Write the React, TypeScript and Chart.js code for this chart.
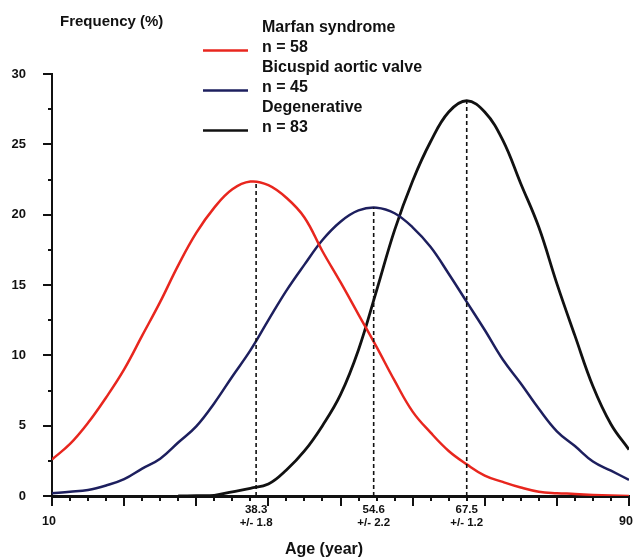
import { useEffect, useRef } from "react";
import { Chart, registerables } from "chart.js";

Chart.register(...registerables);

const ages = [10, 12.5, 15, 17.5, 20, 22.5, 25, 27.5, 30, 32.5, 35, 37.5, 40, 42.5, 45, 47.5, 50, 52.5, 55, 57.5, 60, 62.5, 65, 67.5, 70, 72.5, 75, 77.5, 80, 82.5, 85, 87.5, 90];
const marfan = [2.6, 3.7, 5.2, 7.0, 9.0, 11.4, 13.8, 16.4, 18.7, 20.5, 21.8, 22.35, 22.1, 21.2, 19.8, 17.4, 15.2, 12.9, 10.6, 8.2, 6.0, 4.5, 3.2, 2.25, 1.45, 1.0, 0.6, 0.3, 0.2, 0.15, 0.08, 0.03, 0.0];
const bicuspid = [0.2, 0.3, 0.43, 0.75, 1.2, 1.95, 2.65, 3.8, 4.95, 6.6, 8.5, 10.35, 12.5, 14.6, 16.45, 18.2, 19.5, 20.3, 20.5, 20.1, 19.1, 17.7, 15.8, 13.8, 11.8, 9.7, 8.0, 6.2, 4.6, 3.55, 2.45, 1.8, 1.15];
const degenerative = [null, null, null, null, null, null, null, 0, 0.02, 0.05, 0.3, 0.55, 0.85, 1.85, 3.2, 5.0, 7.2, 10.4, 14.6, 18.9, 22.4, 25.2, 27.3, 28.1, 27.3, 25.3, 22.2, 19.1, 15.1, 11.4, 7.8, 5.1, 3.3];

const seriesNames = ["Marfan syndrome", "Bicuspid aortic valve", "Degenerative"];
const seriesCounts = ["n = 58", "n = 45", "n = 83"];
const seriesColors = ["#e8261e", "#1d1f5e", "#111111"];

const peakAges = [38.3, 54.6, 67.5];
const peakValues = [22.4, 20.5, 28.1];
const peakSpread = ["+/- 1.8", "+/- 2.2", "+/- 1.2"];

const xEndLabels = [10, 90];
const yTitle = "Frequency (%)";
const xTitle = "Age (year)";

const FONT = "'Liberation Sans', Arial, Helvetica, sans-serif";

const decorPlugin = {
  id: "decor",
  afterDraw(chart: any) {
    const ctx = chart.ctx;
    const xs = chart.scales.x;
    const ys = chart.scales.y;
    const left = chart.chartArea.left;
    const bottom = chart.chartArea.bottom;
    ctx.save();
    ctx.strokeStyle = "#111";
    ctx.fillStyle = "#111";
    ctx.lineWidth = 2;
    // y ticks
    for (let v = ys.min; v <= ys.max + 0.001; v += 2.5) {
      const py = Math.round(ys.getPixelForValue(v));
      const major = Math.abs(v % 5) < 0.001;
      ctx.beginPath();
      ctx.moveTo(left - (major ? 9 : 4), py);
      ctx.lineTo(left, py);
      ctx.stroke();
    }
    // x ticks
    for (let a = xs.min; a <= xs.max + 0.001; a += 2.5) {
      const px = Math.round(xs.getPixelForValue(a));
      const major = Math.abs(a % 10) < 0.001;
      ctx.beginPath();
      ctx.moveTo(px, bottom);
      ctx.lineTo(px, bottom + (major ? 10 : 5));
      ctx.stroke();
    }
    ctx.textBaseline = "middle";
    ctx.textAlign = "center";
    // x end labels
    ctx.font = `bold 12.5px ${FONT}`;
    xEndLabels.forEach((a) => {
      ctx.fillText(String(a), xs.getPixelForValue(a) - 3, 522);
    });
    // peak labels
    ctx.font = `bold 11.5px ${FONT}`;
    peakAges.forEach((a, i) => {
      const px = xs.getPixelForValue(a);
      ctx.fillText(a.toFixed(1), px, 510);
      ctx.fillText(peakSpread[i], px, 523);
    });
    // axis titles
    ctx.font = `bold 16px ${FONT}`;
    ctx.fillText(xTitle, 324, 550);
    ctx.textAlign = "left";
    ctx.font = `bold 15px ${FONT}`;
    ctx.fillText(yTitle, 60, 22);
    // legend
    seriesNames.forEach((name, i) => {
      const yTop = 28 + i * 40;
      ctx.fillStyle = "#111";
      ctx.font = `bold 16px ${FONT}`;
      ctx.fillText(name, 262, yTop);
      ctx.fillText(seriesCounts[i], 262, yTop + 20);
      ctx.strokeStyle = seriesColors[i];
      ctx.lineWidth = 2.5;
      ctx.beginPath();
      ctx.moveTo(203, yTop + 22.5);
      ctx.lineTo(248, yTop + 22.5);
      ctx.stroke();
    });
    ctx.restore();
  },
};

export default function App() {
  const ref = useRef<HTMLCanvasElement>(null);
  useEffect(() => {
    if (!ref.current) return;
    const curves = [marfan, bicuspid, degenerative].map((vals, i) => ({
      label: seriesNames[i],
      data: ages.map((a, j) => ({ x: a, y: vals[j] })),
      borderColor: seriesColors[i],
      borderWidth: i === 2 ? 2.8 : 2.5,
      pointRadius: 0,
      tension: 0.4,
      fill: false,
      spanGaps: false,
    }));
    const dashes = peakAges.map((a, i) => ({
      label: "peak " + a,
      data: [
        { x: a, y: 0 },
        { x: a, y: peakValues[i] },
      ],
      borderColor: "#111",
      borderWidth: 1.6,
      borderDash: [4, 3],
      pointRadius: 0,
      fill: false,
    }));
    const chart = new Chart(ref.current, {
      type: "line",
      data: { datasets: [...dashes, ...curves] as any },
      options: {
        animation: false,
        responsive: true,
        maintainAspectRatio: false,
        layout: { padding: { top: 74, bottom: 64, left: 0, right: 4 } },
        plugins: { legend: { display: false }, tooltip: { enabled: false }, title: { display: false } },
        scales: {
          x: {
            type: "linear",
            min: 10,
            max: 90,
            ticks: { display: false },
            grid: { display: false, drawTicks: false },
            border: { display: true, color: "#111", width: 3 },
            afterFit: (s: any) => {
              s.height = 0;
            },
          },
          y: {
            type: "linear",
            min: 0,
            max: 30,
            ticks: {
              stepSize: 5,
              padding: 26,
              color: "#111",
              font: { family: FONT, size: 13, weight: "bold" },
            },
            grid: { display: false, drawTicks: false },
            border: { display: true, color: "#111", width: 2 },
            afterFit: (s: any) => {
              s.width = 52;
            },
          },
        },
      },
      plugins: [decorPlugin],
    });
    return () => chart.destroy();
  }, []);
  return (
    <div style={{ position: "absolute", left: 0, top: 0, width: 633, height: 560, background: "#fff" }}>
      <canvas ref={ref} />
    </div>
  );
}
